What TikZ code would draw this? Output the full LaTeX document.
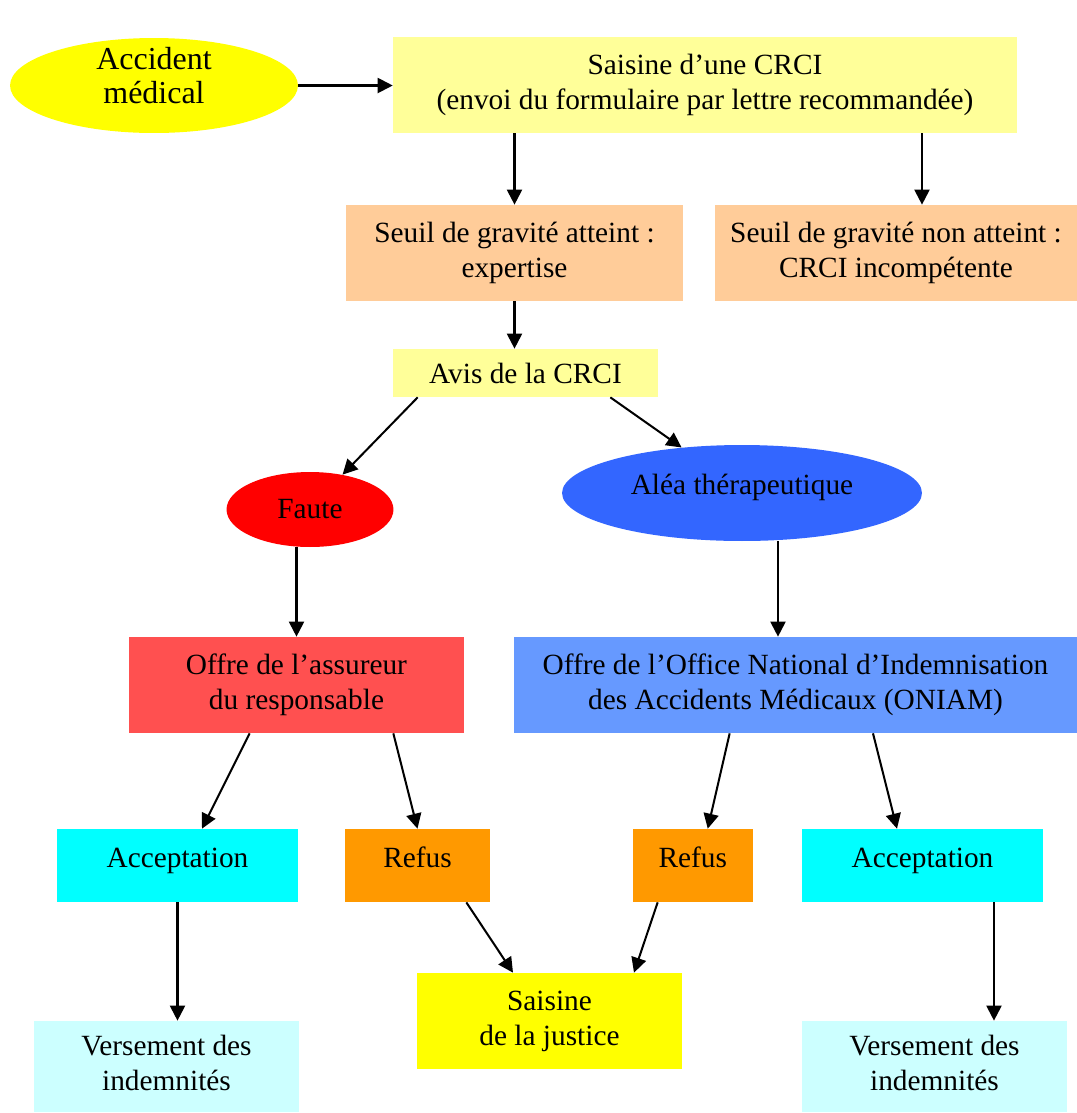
\documentclass[tikz,border=0pt]{standalone}
\usepackage{fontspec}
\setmainfont{Liberation Serif}
\usetikzlibrary{shapes.geometric,arrows.meta}
\definecolor{jaune}{HTML}{FFFF00}
\definecolor{jaunepale}{HTML}{FFFF99}
\definecolor{peche}{HTML}{FFCC99}
\definecolor{rouge}{HTML}{FF0000}
\definecolor{rougepale}{HTML}{FF5050}
\definecolor{bleu}{HTML}{3366FF}
\definecolor{bleupale}{HTML}{6699FF}
\definecolor{cyan}{HTML}{00FFFF}
\definecolor{cyanpale}{HTML}{CCFFFF}
\definecolor{orange}{HTML}{FF9900}
\tikzset{every node/.style={align=center, inner sep=0pt, font=\fontsize{16.7pt}{20pt}\selectfont},
  boite/.style={rectangle, minimum height=1.92cm},
  petiteboite/.style={rectangle, minimum height=1.46cm, text height=0.42cm, text depth=0.36cm},
  bulle/.style={ellipse},
  fleche/.style={-{Triangle[length=0.3cm,width=0.3cm]}, line width=1.15pt, black}}

\begin{document}
\begin{tikzpicture}[x=0.02cm,y=-0.02cm]
  \fill[white] (0,0) rectangle (1077,1113);
  \node[bulle, fill=jaune, minimum width=5.76cm, minimum height=1.9cm,
    label={[yshift=0.2cm, font=\fontsize{18.2pt}{19.5pt}\selectfont]center:Accident\\médical}] (accident) at (154,85.5) {};
  \node[boite, fill=jaunepale, minimum width=12.48cm] (crci) at (705,85) {Saisine d’une CRCI\\(envoi du formulaire par lettre recommandée)};
  \node[boite, fill=peche, minimum width=6.74cm] (atteint) at (514.5,253) {Seuil de gravité atteint :\\expertise};
  \node[boite, fill=peche, minimum width=7.24cm] (nonatteint) at (896,253) {Seuil de gravité non atteint :\\CRCI incompétente};
  \node[rectangle, fill=jaunepale, minimum width=5.3cm, minimum height=0.96cm] (avis) at (525.5,373) {Avis de la CRCI};
  \node[bulle, fill=rouge, minimum width=3.34cm, minimum height=1.5cm] (faute) at (310,509.5) {Faute};
  \node[bulle, fill=bleu, minimum width=7.2cm, minimum height=1.92cm, text depth=0.36cm] (alea) at (742,493) {Aléa thérapeutique};
  \node[boite, fill=rougepale, minimum width=6.7cm] (assureur) at (296.5,685) {Offre de l’assureur\\du responsable};
  \node[boite, fill=bleupale, minimum width=11.26cm] (oniam) at (795.5,685) {Offre de l’Office National d’Indemnisation\\des Accidents Médicaux (ONIAM)};
  \node[petiteboite, fill=cyan, minimum width=4.82cm] (accepgauche) at (177.5,865.5) {Acceptation};
  \node[petiteboite, fill=orange, minimum width=2.9cm] (refusgauche) at (417.5,865.5) {Refus};
  \node[petiteboite, fill=orange, minimum width=2.41cm] (refusdroite) at (692.75,865.5) {Refus};
  \node[petiteboite, fill=cyan, minimum width=4.82cm] (accepdroite) at (922.5,865.5) {Acceptation};
  \node[boite, fill=jaune, minimum width=5.3cm] (justice) at (549.5,1021) {Saisine\\de la justice};
  \node[boite, fill=cyanpale, minimum width=5.3cm, minimum height=1.82cm, text depth=0.16cm] (versgauche) at (166.5,1066.5) {Versement des\\indemnités};
  \node[boite, fill=cyanpale, minimum width=5.3cm, minimum height=1.82cm, text depth=0.16cm] (versdroite) at (934.5,1066.5) {Versement des\\indemnités};

  \draw[fleche] (accident.east) -- (accident.east -| crci.west);
  \draw[fleche] (atteint.north |- crci.south) -- (atteint.north);
  \draw[fleche] ([xshift=0.52cm]nonatteint.north |- crci.south) -- ([xshift=0.52cm]nonatteint.north);
  \draw[fleche] (atteint.south) -- (atteint.south |- avis.north);
  \draw[fleche] ([xshift=0.5cm]avis.south west) -- (faute.47);
  \draw[fleche] ([xshift=-0.96cm]avis.south east) -- (alea.143);
  \draw[fleche] (assureur.north |- faute.south) -- (assureur.north);
  \draw[fleche] ([xshift=0.72cm]alea.south) -- ([xshift=0.72cm]alea.south |- oniam.north);
  \draw[fleche] ([xshift=2.42cm]assureur.south west) -- ([xshift=0.49cm]accepgauche.north);
  \draw[fleche] ([xshift=-1.42cm]assureur.south east) -- (refusgauche.north);
  \draw[fleche] ([xshift=4.32cm]oniam.south west) -- ([xshift=0.3cm]refusdroite.north);
  \draw[fleche] ([xshift=1.55cm]oniam.south) -- ([xshift=-0.51cm]accepdroite.north);
  \draw[fleche] (accepgauche.south) -- (accepgauche.south |- versgauche.north);
  \draw[fleche] ([xshift=1.43cm]accepdroite.south) -- ([xshift=1.43cm]accepdroite.south |- versdroite.north);
  \draw[fleche] ([xshift=-0.48cm]refusgauche.south east) -- ([xshift=-0.73cm]justice.north);
  \draw[fleche] ([xshift=0.51cm]refusdroite.south west) -- ([xshift=1.69cm]justice.north);
\end{tikzpicture}
\end{document}
